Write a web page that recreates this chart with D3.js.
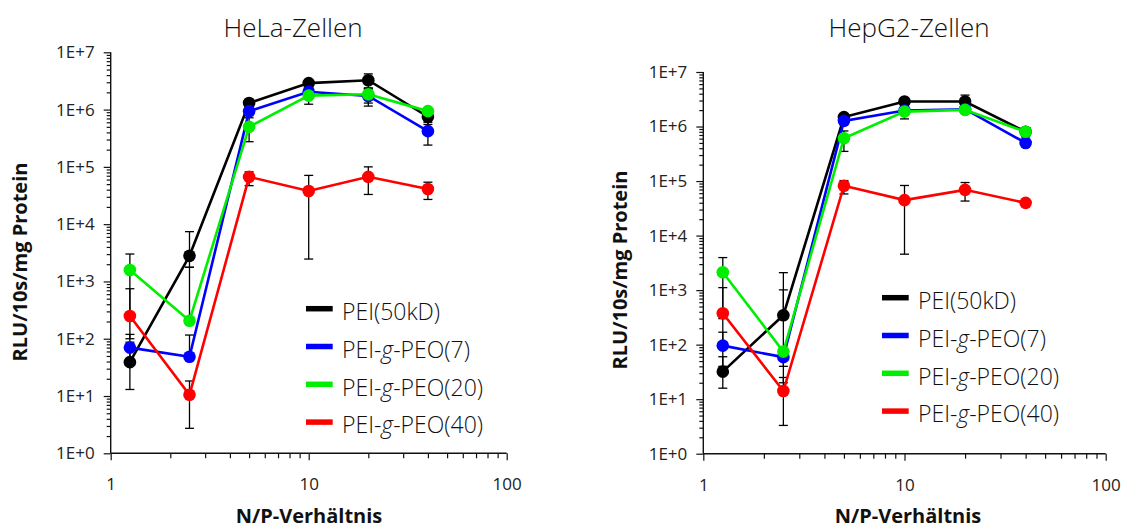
<!DOCTYPE html>
<html>
<head>
<meta charset="utf-8">
<script src="https://cdn.jsdelivr.net/npm/d3@7"></script>
<style>
  html, body { margin: 0; padding: 0; background: #fff; }
  svg { display: block; }
  text { font-family: "Open Sans", "Noto Sans", sans-serif; }
</style>
</head>
<body>
<svg id="chart" width="1123" height="529"></svg>
<script>
// ---------- data ----------
const npRatio = [1.25, 2.5, 5, 10, 20, 40];
const seriesNames = ["PEI(50kD)", "PEI-g-PEO(7)", "PEI-g-PEO(20)", "PEI-g-PEO(40)"];
const seriesColors = ["#000000", "#0000ff", "#00ee00", "#ff0000"];
const yTickExponents = [0, 1, 2, 3, 4, 5, 6, 7];
const xTickLabels = [1, 10, 100];
const chartTitles = ["HeLa-Zellen", "HepG2-Zellen"];
const xAxisLabel = "N/P-Verhältnis";
const yAxisLabel = "RLU/10s/mg Protein";

// HeLa
const helaPEI50   = [39, 2800, 1.3e6, 2.9e6, 3.25e6, 7.5e5];
const helaPEI50Hi = [87, 7400, 1.45e6, 3.3e6, 4.2e6, 1.0e6];
const helaPEI50Lo = [13, 1770, 1.15e6, 2.5e6, 2.3e6, 5.5e5];
const helaPEO7    = [70, 48.5, 9.4e5, 2.05e6, 1.73e6, 4.2e5];
const helaPEO7Hi  = [119, 116, 1.1e6, 2.3e6, 2.3e6, 6.0e5];
const helaPEO7Lo  = [40, null, 7.8e5, 1.8e6, 1.15e6, 2.4e5];
const helaPEO20   = [1585, 206, 5.0e5, 1.75e6, 1.85e6, 9.4e5];
const helaPEO20Hi = [3010, 1765, 7.2e5, 2.25e6, 2.4e6, 1.05e6];
const helaPEO20Lo = [260, null, 2.75e5, 1.24e6, 1.3e6, 8.3e5];
const helaPEO40   = [249, 10.5, 6.7e4, 3.8e4, 6.7e4, 4.1e4];
const helaPEO40Hi = [746, 18.3, 8.2e4, 7.1e4, 1.0e5, 5.4e4];
const helaPEO40Lo = [100, 2.73, 4.7e4, 2460, 3.3e4, 2.7e4];

// HepG2
const hepPEI50   = [32, 346, 1.49e6, 2.88e6, 2.88e6, 8.0e5];
const hepPEI50Hi = [60, 2090, 1.7e6, 3.2e6, 3.77e6, 9.5e5];
const hepPEI50Lo = [15.9, null, 1.3e6, 2.6e6, 2.0e6, 6.5e5];
const hepPEO7    = [96, 59, 1.27e6, 1.97e6, 2.08e6, 5.0e5];
const hepPEO7Hi  = [169, 80, 1.45e6, 2.2e6, 2.3e6, 5.5e5];
const hepPEO7Lo  = [40, 40, 1.1e6, 1.75e6, 1.85e6, 4.5e5];
const hepPEO20   = [2130, 74.5, 6.1e5, 1.88e6, 2.02e6, 8.0e5];
const hepPEO20Hi = [3950, 1010, 8.3e5, 2.3e6, 2.2e6, 9.5e5];
const hepPEO20Lo = [300, 20, 3.5e5, 1.38e6, 1.85e6, 6.5e5];
const hepPEO40   = [377, 14.1, 8.2e4, 4.47e4, 6.9e4, 3.98e4];
const hepPEO40Hi = [1110, 25, 1.02e5, 8.3e4, 9.4e4, 4.2e4];
const hepPEO40Lo = [100, 3.3, 5.8e4, 4560, 4.3e4, 3.8e4];

const helaSeries = [
  { v: helaPEI50, hi: helaPEI50Hi, lo: helaPEI50Lo },
  { v: helaPEO7,  hi: helaPEO7Hi,  lo: helaPEO7Lo },
  { v: helaPEO20, hi: helaPEO20Hi, lo: helaPEO20Lo },
  { v: helaPEO40, hi: helaPEO40Hi, lo: helaPEO40Lo }
];
const hepSeries = [
  { v: hepPEI50, hi: hepPEI50Hi, lo: hepPEI50Lo },
  { v: hepPEO7,  hi: hepPEO7Hi,  lo: hepPEO7Lo },
  { v: hepPEO20, hi: hepPEO20Hi, lo: hepPEO20Lo },
  { v: hepPEO40, hi: hepPEO40Hi, lo: hepPEO40Lo }
];

// ---------- layout ----------
const layouts = [
  { series: helaSeries, left: 110.7, right: 506.7, top: 52.3, bottom: 453.3,
    titleX: 293, titleY: 37, ylabX: 27, ylabY: 262, xlabX: 309, xlabY: 523,
    legX: 306, legY: 308.7 },
  { series: hepSeries, left: 703.3, right: 1105.7, top: 72, bottom: 453.7,
    titleX: 909, titleY: 37, ylabX: 627, ylabY: 270, xlabX: 908, xlabY: 523,
    legX: 882, legY: 297.7 }
];
const legendStep = 37.8;

const svg = d3.select("#chart");

layouts.forEach((L, ci) => {
  const g = svg.append("g");
  const x = d3.scaleLog().domain([1, 100]).range([L.left, L.right]);
  const y = d3.scaleLog().domain([1, 1e7]).range([L.bottom, L.top]);

  // minor ticks
  const yMinor = [];
  for (let e = 0; e < 7; e++) for (let m = 2; m <= 9; m++) yMinor.push(m * Math.pow(10, e));
  const xMinor = [];
  for (let e = 0; e < 2; e++) for (let m = 2; m <= 9; m++) xMinor.push(m * Math.pow(10, e));

  const yMin = g.append("g").attr("transform", `translate(${L.left},0)`)
    .call(d3.axisLeft(y).tickValues(yMinor).tickSize(4).tickFormat(""));
  const xMin = g.append("g").attr("transform", `translate(0,${L.bottom})`)
    .call(d3.axisBottom(x).tickValues(xMinor).tickSize(5).tickFormat(""));
  const yMaj = g.append("g").attr("transform", `translate(${L.left},0)`)
    .call(d3.axisLeft(y).tickValues(yTickExponents.map(e => Math.pow(10, e)))
      .tickSize(7).tickPadding(9).tickFormat(d => "1E+" + Math.round(Math.log10(d))));
  const xMaj = g.append("g").attr("transform", `translate(0,${L.bottom})`)
    .call(d3.axisBottom(x).tickValues(xTickLabels).tickSize(7).tickPadding(18)
      .tickFormat(d => String(d)));

  [yMin, xMin, yMaj, xMaj].forEach(a => {
    a.selectAll("path").attr("stroke", "#111").attr("stroke-width", 1.4);
    a.selectAll("line").attr("stroke", "#111").attr("stroke-width", 1.2);
    a.selectAll("text").attr("font-size", 17).attr("fill", "#222")
      .attr("font-family", '"Open Sans", sans-serif');
  });
  [yMin, yMaj].forEach(a => a.select("path").remove());
  [xMin, xMaj].forEach(a => a.select("path").remove());
  g.append("line").attr("x1", L.left).attr("x2", L.left).attr("y1", L.top).attr("y2", L.bottom)
    .attr("stroke", "#111").attr("stroke-width", 1.4);
  g.append("line").attr("x1", L.left).attr("x2", L.right).attr("y1", L.bottom).attr("y2", L.bottom)
    .attr("stroke", "#111").attr("stroke-width", 1.4);

  // titles
  g.append("text").attr("x", L.titleX).attr("y", L.titleY).attr("text-anchor", "middle")
    .attr("font-size", 26).attr("font-weight", 300).attr("fill", "#111").text(chartTitles[ci]);
  g.append("text").attr("transform", `translate(${L.ylabX},${L.ylabY}) rotate(-90)`)
    .attr("text-anchor", "middle").attr("font-size", 20).attr("font-weight", 700)
    .attr("fill", "#111").text(yAxisLabel);
  g.append("text").attr("x", L.xlabX).attr("y", L.xlabY).attr("text-anchor", "middle")
    .attr("font-size", 20).attr("font-weight", 700).attr("fill", "#111").text(xAxisLabel);

  // error bars
  const eb = g.append("g");
  L.series.forEach(s => {
    npRatio.forEach((xv, i) => {
      const cx = x(xv);
      const top = s.hi[i] != null ? s.hi[i] : s.v[i];
      const bot = s.lo[i] != null ? s.lo[i] : s.v[i];
      eb.append("line").attr("x1", cx).attr("x2", cx).attr("y1", y(top)).attr("y2", y(bot))
        .attr("stroke", "#000").attr("stroke-width", 1.3);
      if (s.hi[i] != null) eb.append("line").attr("x1", cx - 4.5).attr("x2", cx + 4.5)
        .attr("y1", y(top)).attr("y2", y(top)).attr("stroke", "#000").attr("stroke-width", 1.3);
      if (s.lo[i] != null) eb.append("line").attr("x1", cx - 4.5).attr("x2", cx + 4.5)
        .attr("y1", y(bot)).attr("y2", y(bot)).attr("stroke", "#000").attr("stroke-width", 1.3);
    });
  });

  // lines + markers
  const line = d3.line().x((d, i) => x(npRatio[i])).y(d => y(d));
  L.series.forEach((s, si) => {
    g.append("path").datum(s.v).attr("d", line).attr("fill", "none")
      .attr("stroke", seriesColors[si]).attr("stroke-width", 2.6);
    g.selectAll(null).data(s.v).enter().append("circle")
      .attr("cx", (d, i) => x(npRatio[i])).attr("cy", d => y(d)).attr("r", 6.3)
      .attr("fill", seriesColors[si]);
  });

  // legend
  seriesNames.forEach((name, si) => {
    const ly = L.legY + si * legendStep;
    g.append("line").attr("x1", L.legX).attr("x2", L.legX + 26.7).attr("y1", ly).attr("y2", ly)
      .attr("stroke", seriesColors[si]).attr("stroke-width", 5.5);
    const t = g.append("text").attr("x", L.legX + 36).attr("y", ly + 11.3)
      .attr("font-size", 23).attr("font-weight", 300).attr("fill", "#111");
    const parts = name.split("-g-");
    if (parts.length === 2) {
      t.append("tspan").text(parts[0] + "-");
      t.append("tspan").attr("font-style", "italic").text("g");
      t.append("tspan").text("-" + parts[1]);
    } else {
      t.text(name);
    }
  });
});
</script>
</body>
</html>
